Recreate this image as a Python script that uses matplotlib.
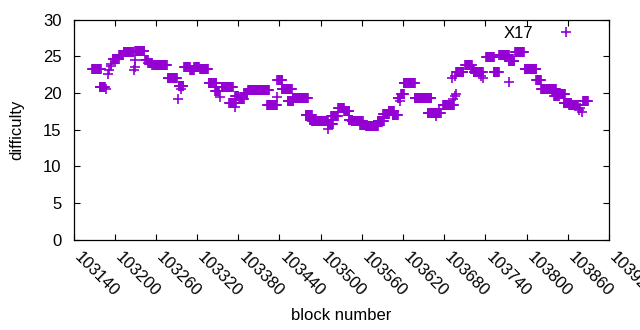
import numpy as np
import matplotlib
matplotlib.use("Agg")
import matplotlib.pyplot as plt

# ---- data (plateaus of consecutive blocks) ----
run_start = [103167, 103178, 103197, 103207, 103213, 103230, 103244, 103249, 103255, 103277,
             103293, 103301, 103310, 103316, 103324, 103337, 103346, 103356, 103367, 103375,
             103381, 103389, 103394, 103422, 103437, 103443, 103452, 103459, 103478, 103484,
             103488, 103511, 103515, 103525, 103534, 103541, 103545, 103558, 103566, 103583,
             103591, 103599, 103605, 103612, 103617, 103621, 103637, 103656, 103678, 103697,
             103710, 103719, 103723, 103741, 103752, 103760, 103774, 103783, 103797, 103814,
             103821, 103840, 103843, 103854, 103862, 103882]
run_end = [103180, 103186, 103206, 103212, 103227, 103243, 103248, 103254, 103276, 103291,
           103300, 103309, 103315, 103323, 103336, 103348, 103352, 103372, 103376, 103380,
           103388, 103393, 103425, 103436, 103444, 103458, 103460, 103481, 103487, 103490,
           103510, 103518, 103525, 103534, 103542, 103546, 103561, 103566, 103583, 103592,
           103599, 103607, 103612, 103616, 103621, 103637, 103661, 103675, 103694, 103708,
           103720, 103723, 103736, 103752, 103760, 103774, 103782, 103796, 103814, 103821,
           103843, 103847, 103856, 103865, 103875, 103889]
run_value = [23.2, 20.8, 24.6, 25.2, 25.6, 25.75, 24.5, 24.1, 23.8, 22.0,
             20.9, 23.5, 23.1, 23.5, 23.3, 21.4, 20.3, 20.75, 18.6, 19.6,
             19.2, 20.0, 20.4, 18.4, 21.8, 20.5, 18.9, 19.3, 17.0, 16.3,
             16.1, 15.8, 16.9, 17.9, 17.5, 16.3, 16.1, 15.6, 15.5, 16.2,
             17.1, 17.5, 17.0, 19.3, 19.9, 21.4, 19.3, 17.2, 18.3, 22.8,
             23.8, 23.3, 22.9, 24.9, 22.8, 25.2, 24.4, 25.6, 23.2, 21.7,
             20.5, 19.6, 19.8, 18.6, 18.4, 18.9]

# ---- isolated blocks ----
pt_block = [103187, 103190, 103192, 103194, 103195, 103228, 103229, 103229, 103292, 103296,
            103353, 103375, 103437, 103510, 103616, 103668, 103672, 103692, 103693, 103695,
            103696, 103697, 103733, 103737, 103775, 103876, 103878, 103880]
pt_value = [20.5, 22.6, 23.1, 23.6, 24.0, 23.1, 23.5, 24.5, 19.2, 20.5,
            19.5, 18.1, 19.5, 15.1, 18.9, 16.8, 17.8, 22.0, 19.2, 19.6,
            22.3, 19.9, 22.3, 22.0, 21.5, 17.6, 17.9, 17.4]

series_label = "X17"
xticks = [103140, 103200, 103260, 103320, 103380, 103440, 103500, 103560,
          103620, 103680, 103740, 103800, 103860, 103920]
yticks = [0, 5, 10, 15, 20, 25, 30]

# expand plateaus into their blocks
blocks = []
values = []
for s, e, v in zip(run_start, run_end, run_value):
    for b in range(s, e + 1):
        blocks.append(b)
        values.append(v)
blocks += pt_block
values += pt_value

FS = 12
plt.rcParams['font.family'] = ['Liberation Sans', 'DejaVu Sans']
fig = plt.figure(figsize=(6.4, 3.3), dpi=100)
L, R, T, B = 73.5, 609.0, 19.5, 239.5
ax = fig.add_axes([L / 640, 1 - B / 330, (R - L) / 640, (B - T) / 330])

ax.plot(blocks, values, linestyle='none', marker='+', markersize=6.5,
        markeredgewidth=1.2, color='#9400D3', label=series_label)

ax.set_xlim(xticks[0], xticks[-1])
ax.set_ylim(yticks[0], yticks[-1])
ax.set_xticks(xticks)
ax.set_yticks(yticks)
ax.set_xticklabels([str(t) for t in xticks], rotation=-45, ha='left', va='baseline',
                   rotation_mode='anchor')
ax.tick_params(direction='in', length=4, width=0.8, top=True, right=True,
               labelsize=FS, colors='black')
ax.tick_params(axis='x', pad=13.5)
ax.tick_params(axis='y', pad=8.5)
for sp in ax.spines.values():
    sp.set_linewidth(0.9)
    sp.set_color('black')

ax.set_xlabel('block number', fontsize=FS, va='center')
ax.set_ylabel('difficulty', fontsize=FS, va='center')
ax.xaxis.set_label_coords(0.5, (B - 315.5) / (B - T))
ax.yaxis.set_label_coords((17 - L) / (R - L), 0.5)

ax.legend(loc='upper right', markerfirst=False, frameon=False, fontsize=FS,
          handlelength=3.25, handletextpad=0.3, borderaxespad=0.0,
          bbox_to_anchor=(0.982, 1.0))

fig.savefig('out.png', dpi=100)
